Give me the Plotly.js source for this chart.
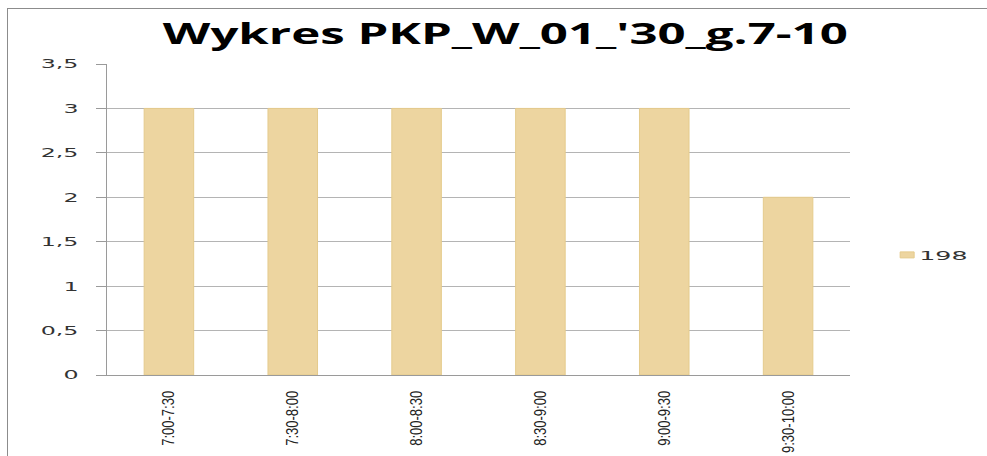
<!DOCTYPE html>
<html><head><meta charset="utf-8">
<script src="https://cdn.plot.ly/plotly-3.0.1.min.js"></script>
<style>
html,body{margin:0;padding:0;background:#fff;overflow:hidden;}
#frame{position:absolute;left:7px;top:8px;width:990px;height:460px;border:1.5px solid #8c8c8c;box-sizing:border-box;}
#chart{position:absolute;left:0;top:0;width:987px;height:456px;}
</style></head>
<body>
<div id="frame"></div>
<div id="chart"></div>
<script>
const categories = ['7:00-7:30','7:30-8:00','8:00-8:30','8:30-9:00','9:00-9:30','9:30-10:00'];
const values198 = [3, 3, 3, 3, 3, 2];
const seriesName = '198';
const yTicks = [0, 0.5, 1, 1.5, 2, 2.5, 3, 3.5];
const yTickLabels = ['0', '0,5', '1', '1,5', '2', '2,5', '3', '3,5'];

const trace = {
  type: 'bar', x: categories, y: values198, name: seriesName,
  marker: {color: '#EDD5A0', line: {color: '#E5CB8C', width: 1}},
  width: 0.4
};
const layout = {
  width: 987, height: 456,
  paper_bgcolor: 'rgba(0,0,0,0)', plot_bgcolor: 'rgba(0,0,0,0)',
  margin: {l: 107, r: 137, t: 64, b: 81},
  title: {text: "<b>Wykres PKP_W_01_'30_g.7-10</b>", x: 0.512, xanchor: 'center', y: 0.924, yanchor: 'middle',
    font: {family: 'Open Sans, Liberation Sans, sans-serif', size: 28, color: '#000'}},
  xaxis: {
    type: 'category', tickangle: -90, showgrid: false, showline: true, linecolor: '#9a9a9a', linewidth: 1,
    ticks: '', tickfont: {family: 'Liberation Sans, sans-serif', size: 17, color: '#222'},
    range: [-0.5, 5.5], fixedrange: true, ticklabelstandoff: 8
  },
  yaxis: {
    range: [0, 3.5], tickvals: yTicks, ticktext: yTickLabels, showgrid: true, gridcolor: '#b4b4b4', gridwidth: 1,
    showline: true, linecolor: '#9a9a9a', linewidth: 1, ticks: 'outside', ticklen: 10, tickcolor: '#9a9a9a',
    tickfont: {family: 'DejaVu Sans, sans-serif', size: 12.5, color: '#333'}, zeroline: false, ticklabelstandoff: 15
  },
  showlegend: true,
  legend: {x: 1.05, y: 0.386, xanchor: 'left', yanchor: 'middle', font: {family: 'DejaVu Sans, sans-serif', size: 13, color: '#333'},
    bgcolor: 'rgba(0,0,0,0)', itemwidth: 30, entrywidth: 90}
};
Plotly.newPlot('chart', [trace], layout, {displayModeBar: false, staticPlot: true}).then(function(gd){
  function stretch(sel, k){
    gd.querySelectorAll(sel).forEach(function(t){
      var w = t.getComputedTextLength();
      if (w > 0) { t.setAttribute('textLength', (w*k).toFixed(1)); t.setAttribute('lengthAdjust', 'spacingAndGlyphs'); }
    });
  }
  var tt = gd.querySelector('text.gtitle');
  if (tt) { tt.setAttribute('textLength', '685'); tt.setAttribute('lengthAdjust', 'spacingAndGlyphs'); }
  stretch('g.ytick text', 1.9);
  stretch('text.legendtext', 1.95);
  gd.querySelectorAll('text.legendtext').forEach(function(t){
    var x = parseFloat(t.getAttribute('x') || '0'); t.setAttribute('x', (x - 8).toFixed(1));
  });
  var xs = gd.querySelectorAll('g.xtick text');
  if (xs.length) { var k = 55 / xs[0].getComputedTextLength(); stretch('g.xtick text', k); }
  gd.querySelectorAll('g.legend [clip-path]').forEach(function(e){ e.removeAttribute('clip-path'); });
  gd.querySelectorAll('g.legendpoints path').forEach(function(p){ p.setAttribute('d', 'M7,3H-7V-3H7Z'); });
});
</script>
</body></html>
